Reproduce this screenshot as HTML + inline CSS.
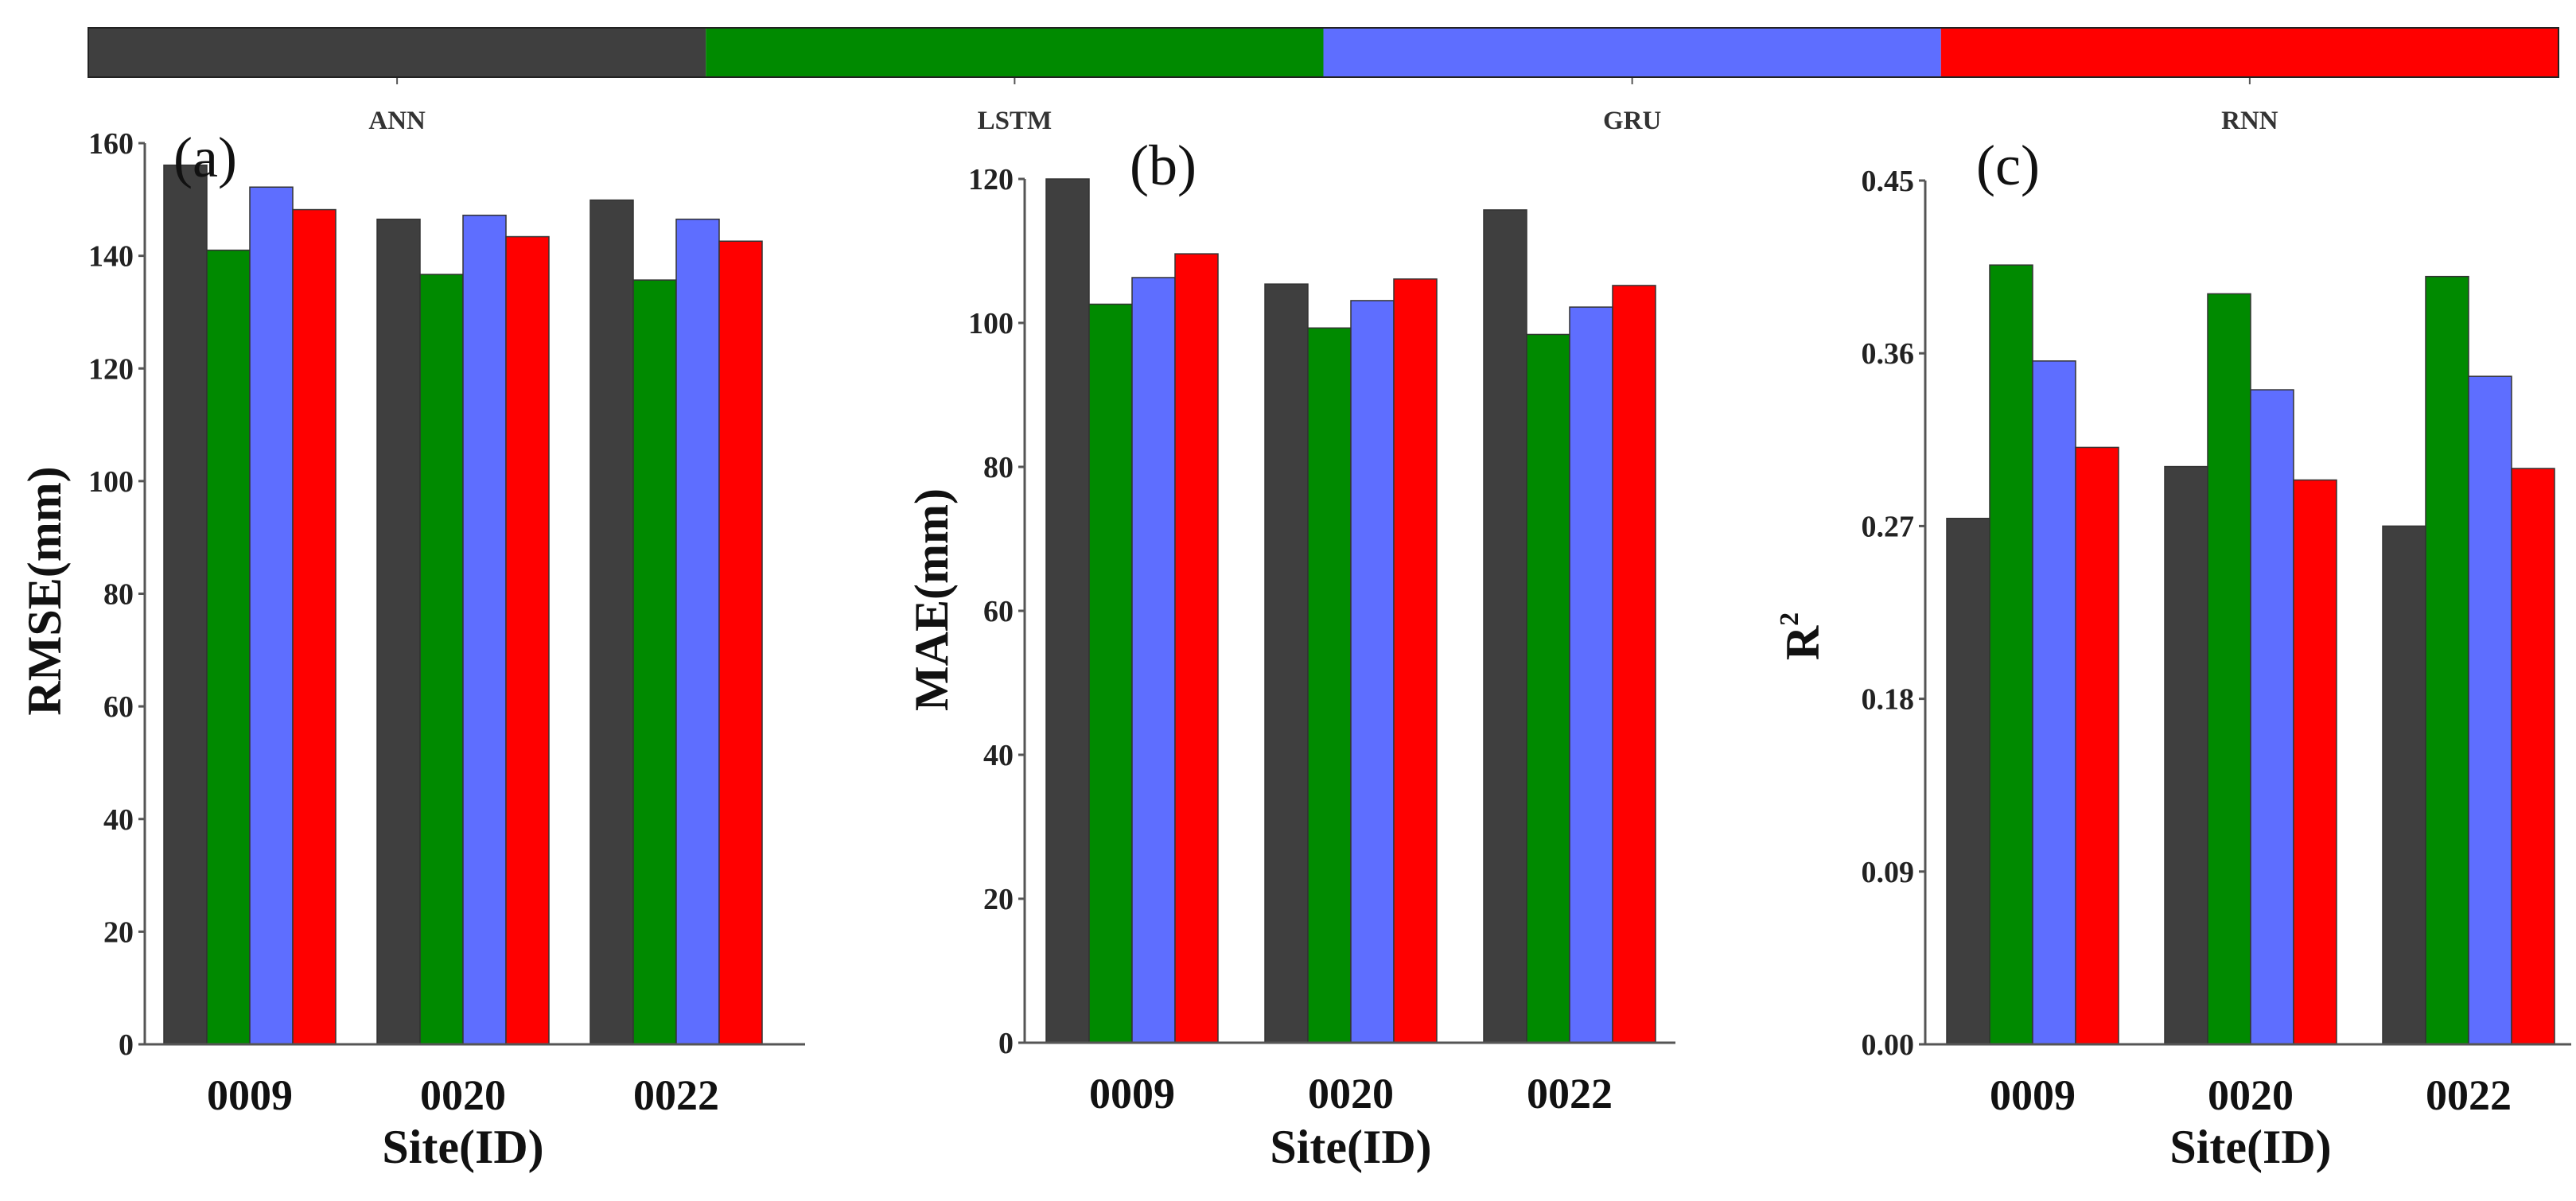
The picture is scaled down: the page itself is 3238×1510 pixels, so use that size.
<!DOCTYPE html>
<html><head><meta charset="utf-8"><style>
html,body{margin:0;padding:0;background:#fff;}
svg{display:block;font-family:"Liberation Serif",serif;font-weight:bold;}
</style></head><body>
<svg id="chart" width="3238" height="1510" viewBox="0 0 3238 1510" xmlns="http://www.w3.org/2000/svg">
<g id="legend"></g>
</svg>
<script>
const models = ["ANN","LSTM","GRU","RNN"];
const colors = ["#3f3f3f","#008a00","#5e6eff","#ff0000"];
const sites = ["0009","0020","0022"];
const rmseANN = [156.1,146.5,149.9];
const rmseLSTM = [141.0,136.7,135.7];
const rmseGRU = [152.2,147.2,146.5];
const rmseRNN = [148.2,143.4,142.6];
const maeANN = [120.0,105.4,115.7];
const maeLSTM = [102.6,99.3,98.4];
const maeGRU = [106.3,103.1,102.2];
const maeRNN = [109.6,106.1,105.2];
const r2ANN = [0.274,0.301,0.270];
const r2LSTM = [0.406,0.391,0.400];
const r2GRU = [0.356,0.341,0.348];
const r2RNN = [0.311,0.294,0.300];
const rmseTicks = ["0","20","40","60","80","100","120","140","160"];
const maeTicks = ["0","20","40","60","80","100","120"];
const r2Ticks = ["0.00","0.09","0.18","0.27","0.36","0.45"];

const NS="http://www.w3.org/2000/svg";
const svg=document.getElementById('chart');
function mk(tag,attrs,parent,text){const e=document.createElementNS(NS,tag);for(const k in attrs)e.setAttribute(k,attrs[k]);if(text!==undefined)e.textContent=text;(parent||svg).appendChild(e);return e;}

const lg=document.getElementById('legend');
const lx0=111,lx1=3216,lw=(lx1-lx0)/4;
models.forEach((m,i)=>{
  const r=mk('rect',{x:lx0+i*lw,y:35,width:lw,height:62,fill:colors[i]},lg);
  
  
  mk('line',{x1:lx0+i*lw+lw/2,y1:97,x2:lx0+i*lw+lw/2,y2:106,stroke:'#555','stroke-width':2},lg);
  const t=mk('text',{x:lx0+i*lw+lw/2,y:162,'text-anchor':'middle','font-size':33,fill:'#333'},lg,m);
  
  
});
mk('rect',{x:lx0,y:35,width:lx1-lx0,height:62,fill:'none',stroke:'#222','stroke-width':2},lg);

const panels=[
 {id:'rmse',label:'(a)',lx:258,ly:222,ax:182,axEnd:1012,y0:1313,yTop:180,max:160,ticks:rmseTicks,g0:24,gs:268,series:[rmseANN,rmseLSTM,rmseGRU,rmseRNN],title:'RMSE(mm)',tx:62,ty:743,sup:false},
 {id:'mae',label:'(b)',lx:1462,ly:232,ax:1288,axEnd:2106,y0:1311,yTop:225,max:120,ticks:maeTicks,g0:27,gs:275,series:[maeANN,maeLSTM,maeGRU,maeRNN],title:'MAE(mm)',tx:1177,ty:754,sup:false},
 {id:'r2',label:'(c)',lx:2524,ly:232,ax:2420,axEnd:3232,y0:1313,yTop:227,max:0.45,ticks:r2Ticks,g0:27,gs:274,series:[r2ANN,r2LSTM,r2GRU,r2RNN],title:'R',tx:2272,ty:800,sup:true}
];
const bw=54;
panels.forEach(p=>{
  const g=mk('g',{});
  
  
  const yS=v=>p.y0-(v/p.max)*(p.y0-p.yTop);
  sites.forEach((s,si)=>{
    p.series.forEach((arr,mi)=>{
      const v=arr[si];
      const x=p.ax+p.g0+si*p.gs+mi*bw;
      const r=mk('rect',{x:x,y:yS(v),width:bw,height:p.y0-yS(v),fill:colors[mi],stroke:'#333','stroke-width':1.5},g);
      
      
    });
    const t=mk('text',{x:p.ax+p.g0+si*p.gs+2*bw,y:p.y0+82,'text-anchor':'middle','font-size':54,fill:'#111'},g,s);
    
    
  });
  const ya=mk('line',{x1:p.ax,y1:p.yTop,x2:p.ax,y2:p.y0,stroke:'#555','stroke-width':3},g);
  
  
  const xa=mk('line',{x1:p.ax,y1:p.y0,x2:p.axEnd,y2:p.y0,stroke:'#555','stroke-width':3},g);
  
  
  p.ticks.forEach((tl,i)=>{
    const v=i*p.max/(p.ticks.length-1);
    const y=yS(v);
    mk('line',{x1:p.ax-8,y1:y,x2:p.ax,y2:y,stroke:'#555','stroke-width':3},g);
    const t=mk('text',{x:p.ax-14,y:y+13,'text-anchor':'end','font-size':38,fill:'#222'},g,tl);
    
    
  });
  const pl=mk('text',{x:p.lx,y:p.ly,'text-anchor':'middle','font-size':72,'font-weight':'normal',fill:'#111'},g,p.label);
  
  
  const yt=mk('text',{x:p.tx,y:p.ty,'text-anchor':'middle','font-size':60,fill:'#111',transform:'rotate(-90 '+p.tx+' '+p.ty+')','dominant-baseline':'middle'},g,p.title);
  
  
  if(p.sup){mk('tspan',{'font-size':34,dy:-20},yt,'2');}
  const xt=mk('text',{x:p.ax+p.g0+p.gs+2*bw,y:1462,'text-anchor':'middle','font-size':60,fill:'#111'},g,'Site(ID)');
  
  
});
</script>
</body></html>
